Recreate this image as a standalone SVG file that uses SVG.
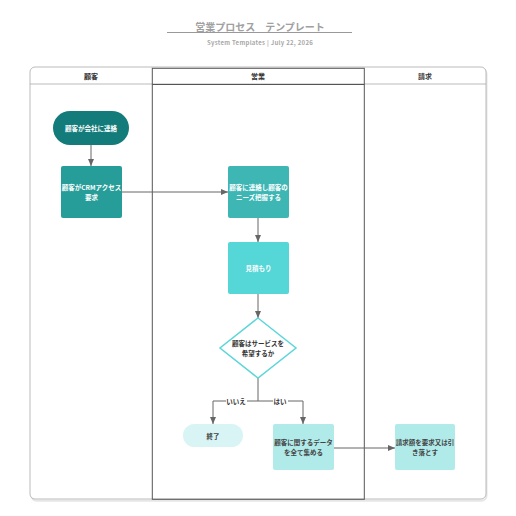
<svg xmlns="http://www.w3.org/2000/svg" width="516" height="516" viewBox="0 0 516 516">
<defs>
<marker id="ah" markerWidth="8" markerHeight="8" refX="7" refY="4" orient="auto" markerUnits="userSpaceOnUse"><path d="M0,1 L7,4 L0,7 Z" fill="#666"/></marker>
<style>
text{font-family:"Noto Sans CJK JP","Noto Sans",sans-serif;text-anchor:middle;dominant-baseline:central}
.nt{font-size:6.5px;font-weight:bold;fill:#fff}
.dt{font-size:6.5px;font-weight:bold;fill:#444}
.hd{font-size:7px;font-weight:bold;fill:#333}
.cn{fill:none;stroke:#666;stroke-width:1}
</style>
</defs>
<rect width="516" height="516" fill="#fff"/>
<g id="title">
<text x="260" y="26" style="font-size:10px;font-weight:bold;fill:#a0a0a0">営業プロセス　テンプレート</text>
<line x1="167" y1="32.5" x2="352" y2="32.5" stroke="#999" stroke-width="1"/>
<text x="260" y="42" style="font-size:6px;font-weight:bold;fill:#a8a8a8;letter-spacing:0.3px">System Templates  |  July 22, 2026</text>
</g>
<g id="pool">
<rect x="31" y="68" width="455" height="432" rx="5" fill="none" stroke="#e6e6e6" stroke-width="2" transform="translate(0.5,0.8)"/>
<rect x="30" y="67" width="456" height="432" rx="5" fill="#fff" stroke="#aaa" stroke-width="0.8"/>
<line x1="30" y1="84" x2="486" y2="84" stroke="#aaa" stroke-width="0.8"/>
<rect x="152.3" y="68.3" width="212" height="431" fill="none" stroke="#555" stroke-width="1"/>
<line x1="152.3" y1="84.5" x2="364.3" y2="84.5" stroke="#555" stroke-width="1"/>
<text class="hd" x="91" y="76">顧客</text>
<text class="hd" x="258" y="76">営業</text>
<text class="hd" x="425" y="76">請求</text>
</g>
<g id="connectors">
<path class="cn" d="M91,145 V166" marker-end="url(#ah)"/>
<path class="cn" d="M122,192 H228" marker-end="url(#ah)"/>
<path class="cn" d="M258,218 V242" marker-end="url(#ah)"/>
<path class="cn" d="M258,294 V318" marker-end="url(#ah)"/>
<path class="cn" d="M258,378 V401 H213 V424" marker-end="url(#ah)"/>
<path class="cn" d="M258,401 H303 V424" marker-end="url(#ah)"/>
<path class="cn" d="M334,448 H395" marker-end="url(#ah)"/>
<rect x="226" y="397" width="21" height="8" fill="#fff"/>
<text x="236" y="401" style="font-size:6.5px;font-weight:bold;fill:#333">いいえ</text>
<rect x="273" y="397" width="15" height="8" fill="#fff"/>
<text x="280" y="401" style="font-size:6.5px;font-weight:bold;fill:#333">はい</text>
</g>
<g id="n1">
<rect x="53" y="111" width="76" height="34" rx="17" fill="#137b79"/>
<text class="nt" x="91" y="128">顧客が会社に連絡</text>
</g>
<g id="n2">
<rect x="61" y="166" width="61" height="52" rx="2" fill="#279d99"/>
<text class="nt" x="91.5" y="187">顧客がCRMアクセス</text>
<text class="nt" x="91.5" y="197">要求</text>
</g>
<g id="n3">
<rect x="228" y="166" width="61" height="52" rx="2" fill="#3db6b4"/>
<text class="nt" x="258.5" y="187">顧客に連絡し顧客の</text>
<text class="nt" x="258.5" y="197">ニーズ把握する</text>
</g>
<g id="n4">
<rect x="228" y="242" width="61" height="52" rx="2" fill="#55d6d7"/>
<text class="nt" x="258.5" y="268">見積もり</text>
</g>
<g id="n5">
<polygon points="258,318 296,348 258,378 220,348" fill="#fff" stroke="#5cd6d8" stroke-width="1.5"/>
<text class="dt" x="258" y="343" style="fill:#333">顧客はサービスを</text>
<text class="dt" x="258" y="353" style="fill:#333">希望するか</text>
</g>
<g id="n6">
<rect x="183" y="424" width="60" height="23" rx="11.5" fill="#d9f4f4"/>
<text class="dt" x="213" y="435.5">終了</text>
</g>
<g id="n7">
<rect x="273" y="424" width="61" height="46" rx="2" fill="#b0ebea"/>
<text class="dt" x="303.5" y="442">顧客に関するデータ</text>
<text class="dt" x="303.5" y="452">を全て集める</text>
</g>
<g id="n8">
<rect x="395" y="424" width="60" height="46" rx="2" fill="#b0ebea"/>
<text class="dt" x="425" y="442">請求額を要求又は引</text>
<text class="dt" x="425" y="452">き落とす</text>
</g>
</svg>
